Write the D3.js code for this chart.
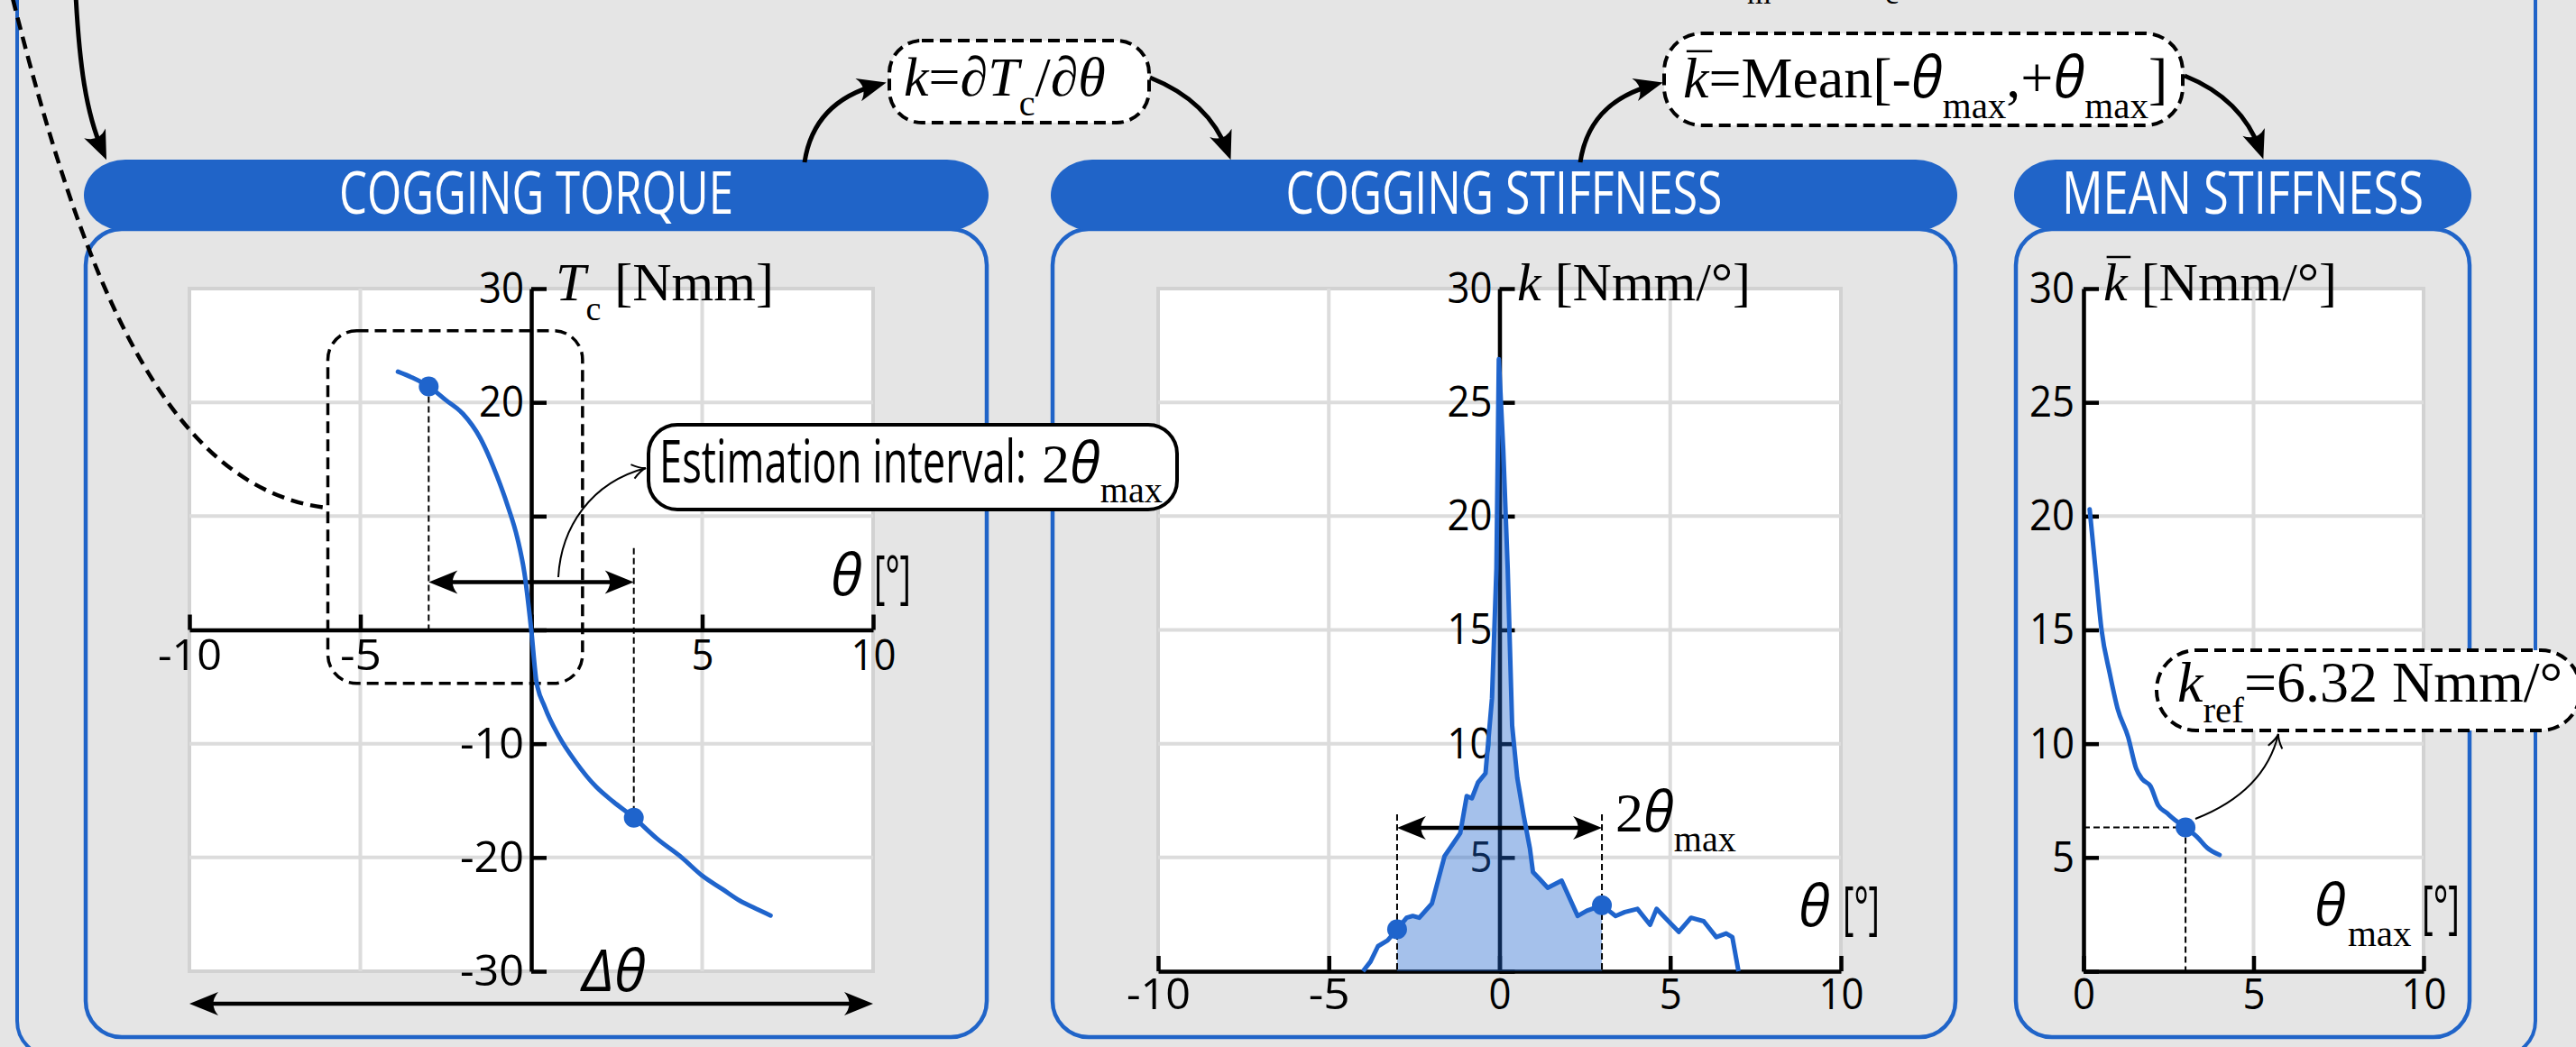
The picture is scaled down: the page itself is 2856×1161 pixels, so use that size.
<!DOCTYPE html>
<html>
<head>
<meta charset="utf-8">
<script src="https://cdn.jsdelivr.net/npm/d3@7"></script>
<style>
  html, body { margin: 0; padding: 0; background: #e5e5e5; }
  svg { display: block; }
</style>
</head>
<body>
<div id="chart"></div>
<script>
// ---------- data ----------
const panelTitles = ["COGGING TORQUE", "COGGING STIFFNESS", "MEAN STIFFNESS"];

// cogging torque Tc [Nmm] vs theta [deg]
const torqueTheta = [-3.9, -3.5, -3.0, -2.5, -2.0, -1.5, -1.0, -0.7, -0.4, -0.2, 0, 0.15, 0.4, 0.8, 1.3, 1.9, 2.4, 3.0, 3.7, 4.4, 5.0, 5.6, 6.1, 6.5, 7.0];
const torqueValue = [22.7, 22.2, 21.4, 20.2, 19.0, 16.9, 13.5, 11.0, 8.0, 5.0, 0, -4.5, -6.8, -9.3, -11.6, -13.8, -15.1, -16.5, -18.4, -20.0, -21.6, -22.8, -23.8, -24.4, -25.1];

// cogging stiffness k [Nmm/deg] vs theta [deg]
const stiffTheta = [-4.0, -3.78, -3.56, -3.28, -3.0, -2.72, -2.54, -2.35, -1.98, -1.61, -1.15, -0.96, -0.81, -0.63, -0.41, -0.22, -0.09, -0.02, 0.11, 0.24, 0.37, 0.52, 0.7, 0.89, 0.98, 1.17, 1.41, 1.82, 2.29, 2.56, 3.0, 3.4, 3.67, 4.04, 4.41, 4.6, 5.25, 5.61, 5.98, 6.35, 6.64, 6.82, 7.0];
const stiffValue = [0, 0.42, 1.1, 1.35, 1.84, 2.35, 2.43, 2.35, 2.98, 5.06, 6.07, 7.7, 7.6, 8.3, 8.7, 12.0, 17.7, 26.9, 22.9, 17.7, 10.8, 8.5, 6.9, 5.4, 4.36, 4.06, 3.67, 3.98, 2.43, 2.66, 2.9, 2.43, 2.6, 2.74, 2.04, 2.74, 1.73, 2.35, 2.2, 1.5, 1.66, 1.5, 0];

// mean stiffness vs theta_max
const meanTheta = [0.18, 0.35, 0.53, 0.77, 1.0, 1.31, 1.55, 1.73, 1.97, 2.2, 2.44, 2.68, 3.0, 3.34, 3.64, 4.0];
const meanValue = [20.3, 17.7, 15.0, 13.1, 11.55, 10.3, 8.9, 8.44, 8.13, 7.28, 6.97, 6.66, 6.32, 5.9, 5.42, 5.11];

const thetaMax = 3;
const kRef = 6.32;
const torqueArrowLevel = 4.2;   // Nmm, level of the 2*theta_max arrow
const stiffArrowLevel = 6.3;    // Nmm/deg
const torqueBox = { x0: -5.95, x1: 1.5, y0: -4.7, y1: 26.3 };

const torqueXTicks = [-10, -5, 0, 5, 10];
const torqueXLabels = ["-10", "-5", "", "5", "10"];
const torqueYTicks = [-30, -20, -10, 0, 10, 20, 30];
const torqueYLabels = ["-30", "-20", "-10", "", "", "20", "30"];
const stiffXTicks = [-10, -5, 0, 5, 10];
const stiffXLabels = ["-10", "-5", "0", "5", "10"];
const stiffYTicks = [0, 5, 10, 15, 20, 25, 30];
const stiffYLabels = ["", "5", "10", "15", "20", "25", "30"];
const meanXTicks = [0, 5, 10];
const meanXLabels = ["0", "5", "10"];

// ---------- style ----------
const BG = "#e5e5e5", BLUE = "#2064c8", LINE = "#1f64cc";
const SANS = "'Open Sans', 'DejaVu Sans', sans-serif";
const SERIF = "'Liberation Serif', 'DejaVu Serif', serif";
const W = 2856, H = 1161;

const svg = d3.select("#chart").append("svg").attr("width", W).attr("height", H);
svg.append("rect").attr("width", W).attr("height", H).attr("fill", BG);

const defs = svg.append("defs");
defs.append("marker").attr("id", "head")
  .attr("viewBox", "-34 -15 36 30").attr("refX", -10).attr("refY", 0)
  .attr("markerWidth", 36).attr("markerHeight", 30)
  .attr("markerUnits", "userSpaceOnUse").attr("orient", "auto-start-reverse")
  .append("path").attr("d", "M0,0 L-32,-13 Q-21,0 -32,13 Z").attr("fill", "#000");
defs.append("marker").attr("id", "open")
  .attr("viewBox", "-18 -10 20 20").attr("refX", 0).attr("refY", 0)
  .attr("markerWidth", 20).attr("markerHeight", 20)
  .attr("markerUnits", "userSpaceOnUse").attr("orient", "auto")
  .append("path").attr("d", "M-15,-8 Q-6,-1 0,0 Q-6,1 -15,8")
  .attr("fill", "none").attr("stroke", "#000").attr("stroke-width", 2);

// outer frame
svg.append("rect").attr("x", 19).attr("y", -60).attr("width", 2792).attr("height", 1232)
  .attr("rx", 40).attr("fill", "none").attr("stroke", BLUE).attr("stroke-width", 4);

// text helper: parts = [{t, f:'serif'|'sans', i:bool, sub:bool, dx}]
function rich(sel, x, y, parts, size) {
  const t = sel.append("text").attr("x", x).attr("y", y).attr("font-size", size).attr("fill", "#000");
  let shift = 0;
  parts.forEach(p => {
    const target = p.sub ? size * 0.36 : 0;
    const ts = t.append("tspan").text(p.t)
      .attr("font-family", p.f === "sans" ? SANS : SERIF)
      .attr("font-size", p.sub ? Math.round(size * 0.64) : size)
      .attr("dy", target - shift);
    if (p.i) ts.attr("font-style", "italic");
    if (p.dx) ts.attr("dx", p.dx);
    shift = target;
  });
  return t;
}
function overbar(textSel, size) {
  const n = textSel.node();
  const a = n.getStartPositionOfChar(0), b = n.getEndPositionOfChar(0);
  textSel.select(function () { return this.parentNode; }).append("line")
    .attr("x1", a.x + size * 0.06).attr("x2", b.x + size * 0.06)
    .attr("y1", a.y - size * 0.8).attr("y2", a.y - size * 0.8)
    .attr("stroke", "#000").attr("stroke-width", 2.5);
}
// narrow sans label (the figure uses a condensed face)
function narrow(sel, x, y, str, size, len) {
  return sel.append("text").attr("x", x).attr("y", y).attr("font-family", SANS)
    .attr("font-size", size).attr("fill", "#000")
    .attr("textLength", len).attr("lengthAdjust", "spacingAndGlyphs").text(str);
}

// ---------- panels ----------
const panels = [
  { x: 95, w: 999, titleW: 437 },
  { x: 1167, w: 1001, titleW: 484 },
  { x: 2235, w: 503, titleW: 401 }
];
const pillTop = 177, pillH = 79, boxBottom = 1150;

panels.forEach((p, i) => {
  const g = svg.append("g");
  g.append("rect").attr("x", p.x).attr("y", pillTop + pillH - 2)
    .attr("width", p.w).attr("height", boxBottom - pillTop - pillH + 2)
    .attr("rx", 40).attr("fill", BG).attr("stroke", BLUE).attr("stroke-width", 4.5);
  g.append("rect").attr("x", p.x - 2).attr("y", pillTop)
    .attr("width", p.w + 4).attr("height", pillH)
    .attr("rx", 46).attr("ry", 39.5).attr("fill", BLUE);
  g.append("text").attr("x", p.x + p.w / 2).attr("y", pillTop + 60)
    .attr("text-anchor", "middle").attr("font-family", SANS).attr("font-size", 66)
    .attr("fill", "#fff").attr("textLength", p.titleW).attr("lengthAdjust", "spacingAndGlyphs")
    .text(panelTitles[i]);
});

// ---------- chart frames ----------
const plotTop = 320, plotBottom = 1077;

function makeChart(left, right, xDom, yDom) {
  const x = d3.scaleLinear().domain(xDom).range([left, right]);
  const y = d3.scaleLinear().domain(yDom).range([plotBottom, plotTop]);
  const g = svg.append("g");
  g.append("rect").attr("x", left).attr("y", plotTop)
    .attr("width", right - left).attr("height", plotBottom - plotTop)
    .attr("fill", "#fff").attr("stroke", "#d2d2d2").attr("stroke-width", 4);
  return { x, y, g };
}

function grid(c, xTicks, yTicks) {
  const [x0, x1] = c.x.range(), [y0, y1] = c.y.range();
  c.g.selectAll(".vgrid").data(xTicks.filter(v => c.x(v) > x0 + 2 && c.x(v) < x1 - 2)).join("line")
    .attr("x1", d => c.x(d)).attr("x2", d => c.x(d)).attr("y1", y1).attr("y2", y0)
    .attr("stroke", "#dcdcdc").attr("stroke-width", 4);
  c.g.selectAll(".hgrid").data(yTicks.filter(v => c.y(v) < y0 - 2 && c.y(v) > y1 + 2)).join("line")
    .attr("x1", x0).attr("x2", x1).attr("y1", d => c.y(d)).attr("y2", d => c.y(d))
    .attr("stroke", "#dcdcdc").attr("stroke-width", 4);
}

function styleAxis(g) {
  g.attr("font-family", null).attr("font-size", null);
  g.select(".domain").attr("stroke", "#000").attr("stroke-width", 4.5);
  g.selectAll(".tick line").attr("stroke", "#000").attr("stroke-width", 4.5);
  g.selectAll(".tick text").attr("font-family", SANS).attr("font-size", 48).attr("fill", "#000")
    .attr("textLength", function () {
      const s = this.textContent;
      if (!s) return null;
      return s.replace("-", "").length * 25 + (s.includes("-") ? 21 : 0);
    })
    .attr("lengthAdjust", "spacingAndGlyphs");
}

function axes(c, xTicks, xLabels, yTicks, yLabels, xPad, yPad) {
  const ax = c.g.append("g").attr("transform", `translate(0,${c.y(0)})`)
    .call(d3.axisBottom(c.x).tickValues(xTicks).tickSizeInner(-17).tickSizeOuter(0)
      .tickPadding(xPad).tickFormat((d, i) => xLabels[i]));
  styleAxis(ax);
  const ay = c.g.append("g").attr("transform", `translate(${c.x(0)},0)`)
    .call(d3.axisLeft(c.y).tickValues(yTicks).tickSizeInner(-17).tickSizeOuter(0)
      .tickPadding(yPad).tickFormat((d, i) => yLabels[i]));
  styleAxis(ay);
}

function dashed(g, x1, y1, x2, y2) {
  g.append("line").attr("x1", x1).attr("y1", y1).attr("x2", x2).attr("y2", y2)
    .attr("stroke", "#000").attr("stroke-width", 2).attr("stroke-dasharray", "7,4");
}
function dblArrow(g, x1, x2, y) {
  g.append("line").attr("x1", x1 + 10).attr("x2", x2 - 10).attr("y1", y).attr("y2", y)
    .attr("stroke", "#000").attr("stroke-width", 4.5)
    .attr("marker-start", "url(#head)").attr("marker-end", "url(#head)");
}

// ---------- chart 1: cogging torque ----------
const torque = torqueTheta.map((t, i) => ({ t, v: torqueValue[i] }));
const c1 = makeChart(210, 968, [-10, 10], [-30, 30]);
grid(c1, torqueXTicks, torqueYTicks);
axes(c1, torqueXTicks, torqueXLabels, torqueYTicks, torqueYLabels, 10, 8);

c1.g.append("rect")
  .attr("x", c1.x(torqueBox.x0)).attr("y", c1.y(torqueBox.y1))
  .attr("width", c1.x(torqueBox.x1) - c1.x(torqueBox.x0))
  .attr("height", c1.y(torqueBox.y0) - c1.y(torqueBox.y1))
  .attr("rx", 32).attr("fill", "none").attr("stroke", "#000")
  .attr("stroke-width", 3.5).attr("stroke-dasharray", "13,7");

const tL = torque.find(d => d.t === -thetaMax), tR = torque.find(d => d.t === thetaMax);
dashed(c1.g, c1.x(-thetaMax), c1.y(tL.v), c1.x(-thetaMax), c1.y(0));
dashed(c1.g, c1.x(thetaMax), c1.y(7.2), c1.x(thetaMax), c1.y(tR.v));
dblArrow(c1.g, c1.x(-thetaMax), c1.x(thetaMax), c1.y(torqueArrowLevel));

c1.g.append("path").datum(torque)
  .attr("d", d3.line().x(d => c1.x(d.t)).y(d => c1.y(d.v)).curve(d3.curveMonotoneX))
  .attr("fill", "none").attr("stroke", LINE).attr("stroke-width", 5).attr("stroke-linecap", "round");
c1.g.selectAll(".mk").data([tL, tR]).join("circle")
  .attr("cx", d => c1.x(d.t)).attr("cy", d => c1.y(d.v)).attr("r", 11).attr("fill", LINE);

rich(c1.g, 616, 333, [{ t: "T", i: 1 }, { t: "c", sub: 1 }, { t: " [Nmm]" }], 60);
rich(c1.g, 921, 660, [{ t: "θ", f: "sans", i: 1 }], 64);
narrow(c1.g, 969, 662, "[°]", 64, 41);
dblArrow(c1.g, c1.x(-10), c1.x(10), 1113);
rich(c1.g, 645, 1099, [{ t: "Δθ", f: "sans", i: 1 }], 64);

// ---------- chart 2: cogging stiffness ----------
const stiff = stiffTheta.map((t, i) => ({ t, v: stiffValue[i] }));
const c2 = makeChart(1284, 2041, [-10, 10], [0, 30]);
grid(c2, stiffXTicks, stiffYTicks);
axes(c2, stiffXTicks, stiffXLabels, stiffYTicks, stiffYLabels, 8, 8);

c2.g.append("path").datum(stiff.filter(d => d.t >= -thetaMax && d.t <= thetaMax))
  .attr("d", d3.area().x(d => c2.x(d.t)).y0(c2.y(0)).y1(d => c2.y(d.v)))
  .attr("fill", LINE).attr("fill-opacity", 0.4);
const sL = stiff.find(d => d.t === -thetaMax), sR = stiff.find(d => d.t === thetaMax);
dashed(c2.g, c2.x(-thetaMax), c2.y(6.9), c2.x(-thetaMax), c2.y(0));
dashed(c2.g, c2.x(thetaMax), c2.y(6.9), c2.x(thetaMax), c2.y(0));
dblArrow(c2.g, c2.x(-thetaMax), c2.x(thetaMax), c2.y(stiffArrowLevel));
c2.g.append("path").datum(stiff)
  .attr("d", d3.line().x(d => c2.x(d.t)).y(d => c2.y(d.v)))
  .attr("fill", "none").attr("stroke", LINE).attr("stroke-width", 5).attr("stroke-linejoin", "round");
c2.g.selectAll(".mk").data([sL, sR]).join("circle")
  .attr("cx", d => c2.x(d.t)).attr("cy", d => c2.y(d.v)).attr("r", 11).attr("fill", LINE);

rich(c2.g, 1682, 333, [{ t: "k", i: 1 }, { t: " [Nmm/°]" }], 60);
rich(c2.g, 1791, 922, [{ t: "2" }, { t: "θ", f: "sans", i: 1 }, { t: "max", sub: 1 }], 62);
rich(c2.g, 1994, 1027, [{ t: "θ", f: "sans", i: 1 }], 64);
narrow(c2.g, 2043, 1029, "[°]", 64, 41);

// ---------- chart 3: mean stiffness ----------
const mean = meanTheta.map((t, i) => ({ t, v: meanValue[i] }));
const c3 = makeChart(2310, 2687, [0, 10], [0, 30]);
grid(c3, meanXTicks, stiffYTicks);
axes(c3, meanXTicks, meanXLabels, stiffYTicks, stiffYLabels, 8, 10);
const mRef = mean.find(d => d.t === thetaMax);
dashed(c3.g, c3.x(0), c3.y(mRef.v), c3.x(mRef.t), c3.y(mRef.v));
dashed(c3.g, c3.x(mRef.t), c3.y(mRef.v), c3.x(mRef.t), c3.y(0));
c3.g.append("path").datum(mean)
  .attr("d", d3.line().x(d => c3.x(d.t)).y(d => c3.y(d.v)).curve(d3.curveMonotoneX))
  .attr("fill", "none").attr("stroke", LINE).attr("stroke-width", 5).attr("stroke-linecap", "round");
c3.g.append("circle").attr("cx", c3.x(mRef.t)).attr("cy", c3.y(mRef.v)).attr("r", 11).attr("fill", LINE);

const kbar3 = rich(c3.g, 2332, 333, [{ t: "k", i: 1 }, { t: " [Nmm/°]" }], 60);
overbar(kbar3, 60);
rich(c3.g, 2566, 1026, [{ t: "θ", f: "sans", i: 1 }, { t: "max", sub: 1, dx: 2 }], 64);
narrow(c3.g, 2685, 1028, "[°]", 64, 42);

// ---------- flow arrows and formula boxes ----------
const ann = svg.append("g");
function arrow(d, w, dash, head) {
  const p = ann.append("path").attr("d", d).attr("fill", "none").attr("stroke", "#000")
    .attr("stroke-width", w);
  if (dash) p.attr("stroke-dasharray", dash);
  if (head) p.attr("marker-end", `url(#${head})`);
}
arrow("M84,-5 C88,70 95,125 114,168", 5, null, "head");
arrow("M14,-2 C90,300 180,540 361,563", 4.5, "14,8", null);
arrow("M892,180 C898,140 920,108 973,94", 5, null, "head");
arrow("M1275,86 C1310,100 1345,125 1361,168", 5, null, "head");
arrow("M1752,180 C1758,140 1780,108 1834,94", 5, null, "head");
arrow("M2422,84 C2457,98 2490,122 2506,167", 5, null, "head");
arrow("M619,640 C622,585 655,535 716,519", 2, null, "open");
arrow("M2434,908 C2480,890 2515,860 2526,814", 2, null, "open");

function box(x, y, w, h, r, dash) {
  const b = ann.append("rect").attr("x", x).attr("y", y).attr("width", w).attr("height", h)
    .attr("rx", r).attr("fill", "#fff").attr("stroke", "#000").attr("stroke-width", 4);
  if (dash) b.attr("stroke-dasharray", dash);
}
box(986, 45, 288, 91, 36, "13,7");
rich(ann, 1002, 106, [{ t: "k", i: 1 }, { t: "=" }, { t: "∂", i: 1 }, { t: "T", i: 1 }, { t: "c", sub: 1 }, { t: "/" }, { t: "∂", i: 1 }, { t: "θ", i: 1 }], 62);

box(1845, 37, 575, 102, 42, "13,7");
const kbar2 = rich(ann, 1866, 108, [{ t: "k", i: 1 }, { t: "=Mean[-" }, { t: "θ", f: "sans", i: 1 }, { t: "max", sub: 1 }, { t: ",+" }, { t: "θ", f: "sans", i: 1 }, { t: "max", sub: 1 }, { t: "]" }], 64);
overbar(kbar2, 64);

box(719, 471, 586, 94, 32, null);
narrow(ann, 731, 535, "Estimation interval:", 66, 407);
rich(ann, 1155, 535, [{ t: "2" }, { t: "θ", f: "sans", i: 1 }, { t: "max", sub: 1 }], 62);

box(2391, 721, 470, 89, 44, "13,7");
rich(ann, 2414, 778, [{ t: "k", i: 1 }, { t: "ref", sub: 1 }, { t: `=${kRef} Nmm/°` }], 64);

// clipped subscripts of the text above the frame
rich(ann, 1937, 4, [{ t: "m" }], 34);
rich(ann, 2090, 4, [{ t: "c" }], 34);
</script>
</body>
</html>
